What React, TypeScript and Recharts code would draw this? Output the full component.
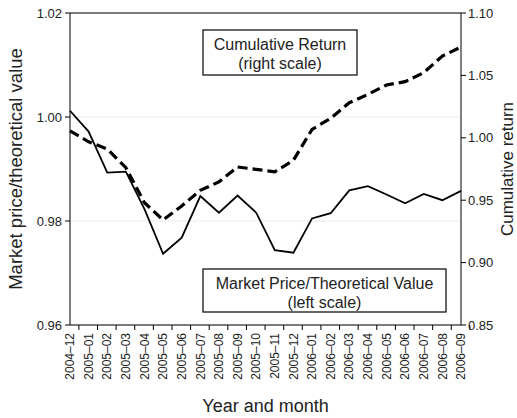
import { ComposedChart, Line, XAxis, YAxis, CartesianGrid, ReferenceLine } from "recharts";

const months = [
  "2004–12", "2005–01", "2005–02", "2005–03", "2005–04", "2005–05", "2005–06", "2005–07",
  "2005–08", "2005–09", "2005–10", "2005–11", "2005–12", "2006–01", "2006–02", "2006–03",
  "2006–04", "2006–05", "2006–06", "2006–07", "2006–08", "2006–09",
];

// left scale
const priceToValue = [
  1.0012, 0.9972, 0.9893, 0.9895, 0.9823, 0.9737, 0.9768, 0.9848, 0.9816, 0.9849, 0.9816,
  0.9744, 0.9739, 0.9805, 0.9815, 0.9859, 0.9867, 0.9851, 0.9834, 0.9852, 0.984, 0.9858,
];

// right scale
const cumulativeReturn = [
  1.0055, 0.9968, 0.991, 0.9761, 0.948, 0.9341, 0.9454, 0.9579, 0.9647, 0.9766, 0.9747,
  0.9728, 0.982, 1.0068, 1.0156, 1.0281, 1.0348, 1.0423, 1.045, 1.0522, 1.0655, 1.0728,
];

const leftTicks = [0.96, 0.98, 1.0, 1.02];
const rightTicks = [0.85, 0.9, 0.95, 1.0, 1.05, 1.1];

const W = 517;
const H = 418;
const LEFT_W = 70;
const RIGHT_W = 56;
const BAND = (W - LEFT_W - RIGHT_W) / months.length;
const FONT = "'Liberation Sans', Arial, Helvetica, sans-serif";

const chartData = months.map((m, i) => ({
  month: m,
  price: priceToValue[i],
  cum: cumulativeReturn[i],
}));

const XTick = (props: any) => {
  const { x, y, payload } = props;
  return (
    <g>
      <line x1={x + BAND / 2} x2={x + BAND / 2} y1={y} y2={y + 5} stroke="#000" />
      <text
        x={x}
        y={y + 8}
        transform={`rotate(-90, ${x}, ${y + 8})`}
        textAnchor="end"
        dy="0.35em"
        fontSize={12}
        fill="#222"
        fontFamily={FONT}
      >
        {payload.value}
      </text>
    </g>
  );
};

export default function App() {
  return (
    <div style={{ position: "absolute", left: 0, top: 0, fontFamily: FONT }}>
      <ComposedChart width={W} height={H} data={chartData} margin={{ top: 13, right: 0, left: 0, bottom: 0 }}>
        <CartesianGrid yAxisId="left" vertical={false} stroke="#ececec" />
        <XAxis
          dataKey="month"
          interval={0}
          height={93}
          tickSize={0}
          tickMargin={0}
          tickLine={false}
          tick={<XTick />}
          axisLine={{ stroke: "#000" }}
          label={{ value: "Year and month", position: "insideBottom", offset: 6, style: { fontSize: 18, fill: "#222" } }}
        />
        <YAxis
          yAxisId="left"
          width={LEFT_W}
          domain={[0.96, 1.02]}
          ticks={leftTicks}
          tickFormatter={(v: number) => v.toFixed(2)}
          tickSize={5}
          tickMargin={3}
          tick={{ fontSize: 13, fill: "#222" }}
          tickLine={{ stroke: "#000" }}
          axisLine={{ stroke: "#000" }}
        />
        <YAxis
          yAxisId="right"
          orientation="right"
          width={RIGHT_W}
          domain={[0.85, 1.1]}
          ticks={rightTicks}
          tickFormatter={(v: number) => v.toFixed(2)}
          tickSize={5}
          tickMargin={2}
          tick={{ fontSize: 13, fill: "#222" }}
          tickLine={{ stroke: "#000" }}
          axisLine={{ stroke: "#000" }}
          label={{
            value: "Cumulative return",
            angle: -90,
            position: "insideRight",
            offset: 10,
            textAnchor: "middle",
            style: { fontSize: 17, fill: "#222", textAnchor: "middle" },
          }}
        />
        <ReferenceLine yAxisId="left" y={1.02} stroke="#000" />
        <Line
          yAxisId="left"
          type="linear"
          dataKey="price"
          stroke="#000"
          strokeWidth={1.8}
          dot={false}
          isAnimationActive={false}
        />
        <Line
          yAxisId="right"
          type="linear"
          dataKey="cum"
          stroke="#000"
          strokeWidth={3.2}
          strokeDasharray="10 5"
          dot={false}
          isAnimationActive={false}
        />
        <text
          x={16}
          y={169}
          transform="rotate(-90, 16, 169)"
          textAnchor="middle"
          dy="0.35em"
          fontSize={18.5}
          fill="#222"
          fontFamily={FONT}
        >
          Market price/theoretical value
        </text>
        <g fontFamily={FONT} fill="#222" fontSize={16} textAnchor="middle">
          <rect x={203} y={30} width={154} height={45} fill="#fff" stroke="#000" strokeWidth={1.2} />
          <text x={280} y={50}>Cumulative Return</text>
          <text x={280} y={69}>(right scale)</text>
          <rect x={203} y={269} width={243} height={43} fill="#fff" stroke="#000" strokeWidth={1.2} />
          <text x={324.5} y={288.5}>Market Price/Theoretical Value</text>
          <text x={324.5} y={307.5}>(left scale)</text>
        </g>
      </ComposedChart>
    </div>
  );
}
